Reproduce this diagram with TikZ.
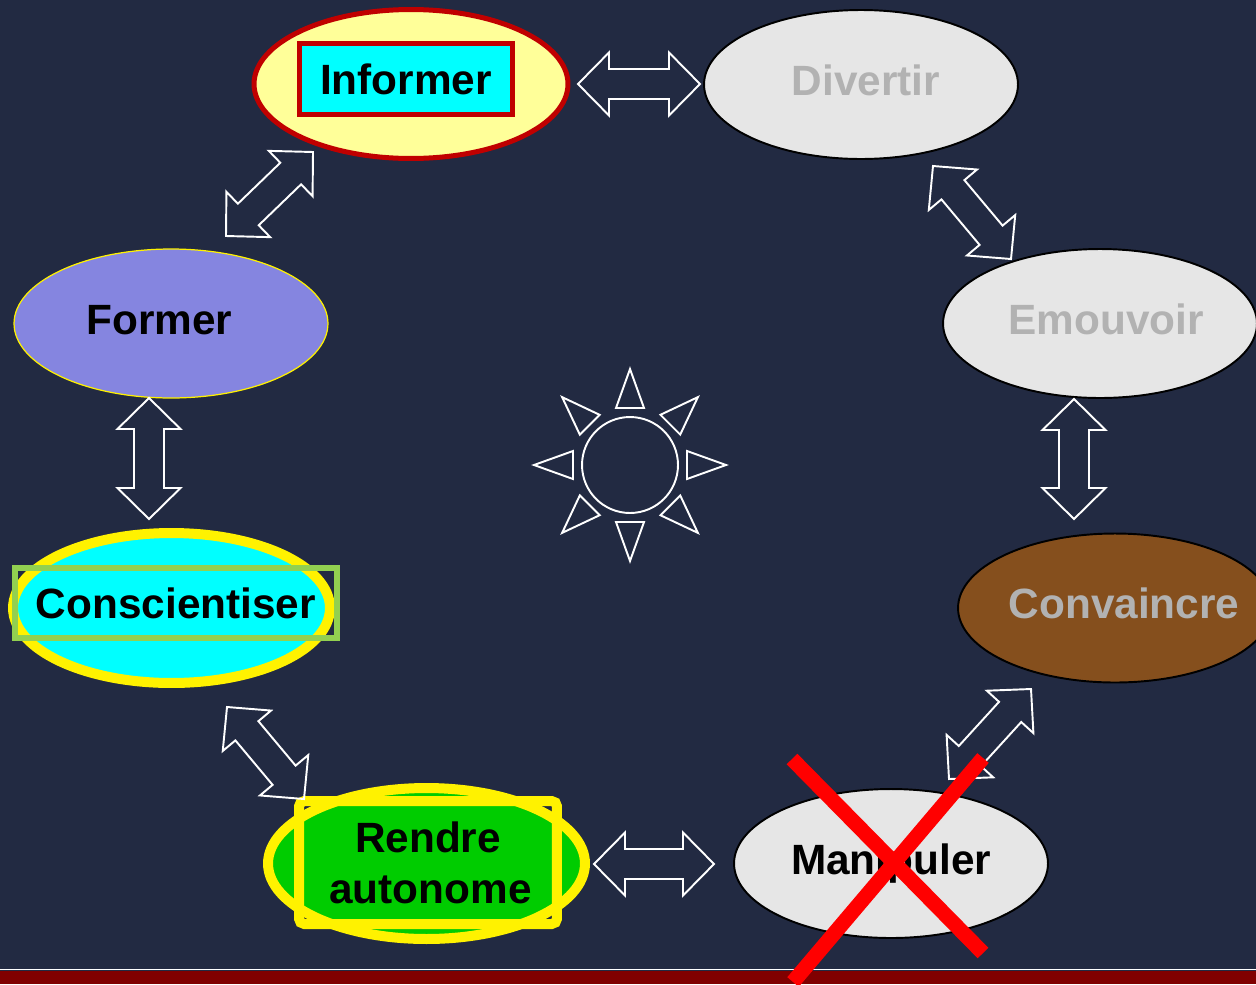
\documentclass[tikz,border=0pt]{standalone}
\usepackage{fontspec}
\setmainfont{Liberation Sans}
\usetikzlibrary{calc,shapes.geometric}

\definecolor{navyback}{HTML}{222A42}
\definecolor{lemon}{HTML}{FFFF99}
\definecolor{darkred}{HTML}{C00000}
\definecolor{aqua}{HTML}{00FFFF}
\definecolor{paper}{HTML}{E6E6E6}
\definecolor{fadetext}{HTML}{B2B2B2}
\definecolor{mud}{HTML}{854F1D}
\definecolor{lavender}{HTML}{8585E0}
\definecolor{leaf}{HTML}{92D050}
\definecolor{grass}{HTML}{00CC00}
\definecolor{maroonband}{HTML}{800000}

% double block arrow between two tips
\newcommand{\twoway}[2]{%
  \coordinate (p) at ($(#1)!0.62cm!(#2)$);
  \coordinate (q) at ($(#2)!0.62cm!(#1)$);
  \draw[twoarrow] (#1) -- ($(p)!0.63cm!90:(#2)$) -- ($(p)!0.3cm!90:(#2)$)
    -- ($(q)!0.3cm!-90:(#1)$) -- ($(q)!0.63cm!-90:(#1)$) -- (#2)
    -- ($(q)!0.63cm!90:(#1)$) -- ($(q)!0.3cm!90:(#1)$)
    -- ($(p)!0.3cm!-90:(#2)$) -- ($(p)!0.63cm!-90:(#2)$) -- cycle;}

\begin{document}
\begin{tikzpicture}[x=0.02cm, y=-0.02cm,
    font=\fontsize{24.1pt}{29pt}\selectfont\bfseries,
    goal/.style={draw, ellipse, line width=1.1pt, minimum width=6.28cm, minimum height=2.98cm,
      inner sep=0pt, inner xsep=-3cm, text height=0.62cm, text depth=0.2cm},
    tag/.style={draw, rectangle, inner sep=0pt},
    twoarrow/.style={draw=white, line width=1.1pt},
    ray/.style={draw=white, line width=1.1pt},
    cross/.style={draw=red, line width=0.3cm}]
    \useasboundingbox (0,0) rectangle (1256,984);
    \fill[navyback] (0,0) rectangle (1256,984);
    \fill[maroonband] (0,970.5) rectangle (1256,984);
    \draw[white, line width=0.03cm] (0,969.3) -- (1256,969.3);

    \node[goal, fill=lemon, draw=darkred, line width=0.1cm] (inform) at (411,84) {};
    \node[tag, fill=aqua, draw=darkred, line width=0.1cm, minimum width=4.26cm, minimum height=1.42cm] (informtag) at (406,79) {Informer};
    \node[goal, fill=paper, text=fadetext] (divert) at (861,84.5) {\kern0.2cm Divertir};
    \node[goal, fill=paper, text=fadetext] (emouv) at (1100,323.5) {\kern0.24cm Emouvoir};
    \node[goal, fill=mud, text=fadetext] (convain) at (1115,608) {\kern0.36cm Convaincre};
    \node[goal, fill=paper] (manip) at (891,863.5) {Manipuler};
    \node[goal, fill=lavender, draw=yellow, line width=0.7pt] (form) at (171,323.5) {Former\kern0.46cm};
    \node[goal, fill=aqua, draw=yellow, line width=0.2cm, minimum width=6.34cm, minimum height=3cm] (consc) at (171.5,608) {};
    \node[tag, draw=leaf, line width=0.12cm, minimum width=6.44cm, minimum height=1.4cm] (consctag) at (176,603) {Conscientiser};
    \node[goal, fill=grass, draw=yellow, line width=0.2cm, minimum width=6.34cm, minimum height=3.02cm] (rendre) at (426.5,863.5) {};
    \node[tag, draw=yellow, line width=0.2cm, rounded corners=3pt, minimum width=5.16cm, minimum height=2.46cm, align=center] (rendretag) at (428,862.5) {Rendre\\\kern0.1cm autonome};

    % arrow tips
    \coordinate (informR) at (578,84);
    \coordinate (divertL) at (700,84);
    \coordinate (formNE) at (226,236);
    \coordinate (informSW) at (313,152);
    \coordinate (divertS) at (933,166);
    \coordinate (emouvN) at (1011,259);
    \coordinate (emouvS) at (1074,399);
    \coordinate (convainN) at (1074,519);
    \coordinate (formS) at (149,398);
    \coordinate (conscN) at (149,519);
    \coordinate (conscS) at (227,707);
    \coordinate (rendreN) at (304,799);
    \coordinate (rendreR) at (594,864);
    \coordinate (manipL) at (714,864);
    \coordinate (manipN) at (949,779);
    \coordinate (convainS) at (1031,689);

    \twoway{informR}{divertL}
    \twoway{formNE}{informSW}
    \twoway{divertS}{emouvN}
    \twoway{emouvS}{convainN}
    \twoway{formS}{conscN}
    \twoway{conscS}{rendreN}
    \twoway{rendreR}{manipL}
    \twoway{manipN}{convainS}

    % sun
    \node[circle, draw=white, line width=1.1pt, minimum size=1.92cm, inner sep=0pt] (sun) at (630,465) {};
    \foreach \a in {0,45,...,315}
      \draw[ray, shift={(sun.center)}] (\a:96) -- (\a+13.8:58.7) -- (\a-13.8:58.7) -- cycle;

    % crossed out
    \draw[cross] (792,759) -- (983,953);
    \draw[cross] (983,758) -- (793,982);
\end{tikzpicture}
\end{document}
